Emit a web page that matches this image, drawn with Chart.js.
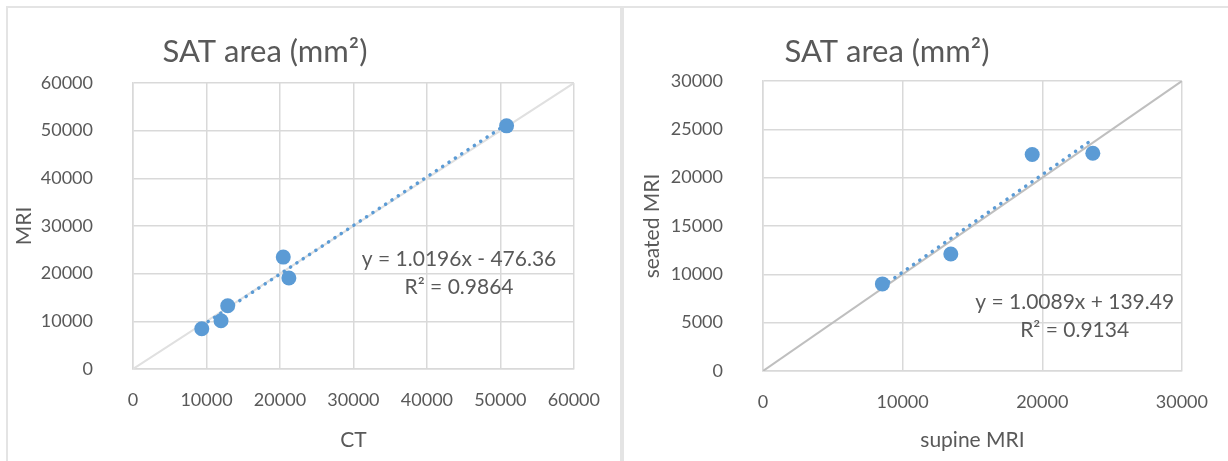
<!DOCTYPE html>
<html>
<head>
<meta charset="utf-8">
<script src="https://cdn.jsdelivr.net/npm/chart.js@4.4.1/dist/chart.umd.min.js"></script>
<style>
  body { margin: 0; background: #fff; width: 1228px; height: 461px; overflow: hidden; position: relative; }
  .frame { position: absolute; left: 6px; top: 6px; width: 1240px; height: 470px; border-left: 2px solid #e4e4e4; border-top: 2px solid #e4e4e4; }
  .sep { position: absolute; left: 620px; top: 6px; width: 4px; height: 460px; background: #e4e4e4; }
  .box { position: absolute; top: 0; height: 461px; }
</style>
</head>
<body>
<div class="frame"></div>
<div class="sep"></div>
<div class="box" style="left:0;width:620px"><canvas id="left"></canvas></div>
<div class="box" style="left:624px;width:604px"><canvas id="right"></canvas></div>
<script>
// CT vs MRI
const ctValues = [9360, 11980, 12890, 20450, 21210, 50840];
const mriValues = [8450, 10130, 13270, 23480, 19080, 51010];
const ctXTicks = [0, 10000, 20000, 30000, 40000, 50000, 60000];
const ctYTicks = [0, 10000, 20000, 30000, 40000, 50000, 60000];

// supine vs seated MRI
const supineValues = [8550, 13450, 19280, 23620];
const seatedValues = [9010, 12110, 22390, 22530];
const supineTicks = [0, 10000, 20000, 30000];
const seatedTicks = [0, 5000, 10000, 15000, 20000, 25000, 30000];

// linear trend lines (from the equations shown)
const ctTrend = { slope: 1.0196, intercept: -476.36, r2: '0.9864' };
const mriTrend = { slope: 1.0089, intercept: 139.49, r2: '0.9134' };

const BLUE = '#5b9bd5';
const TEXT = '#595959';
const GRID = '#d9d9d9';

const panelText = {
    id: 'panelText',
    afterDraw(chart, args, opts) {
        const c = chart.ctx;
        const sx = chart.scales.x, sy = chart.scales.y;
        c.save();
        c.fillStyle = TEXT;
        c.textAlign = 'center';
        c.font = '31px Lato';
        c.textBaseline = 'alphabetic';
        c.fillText('SAT area (mm\u00B2)', opts.titleX, opts.titleY);
        c.font = '21px Lato';
        c.textBaseline = 'middle';
        const px = sx.getPixelForValue(opts.eq[0]);
        const py = sy.getPixelForValue(opts.eq[1]);
        c.fillText(opts.eqText, px, py);
        c.fillText(opts.r2Text, px, py + 28);
        c.restore();
    }
};

function fmtEq(t) {
    const sign = t.intercept < 0 ? ' - ' : ' + ';
    return 'y = ' + t.slope.toFixed(4) + 'x' + sign + Math.abs(t.intercept).toFixed(2);
}

function makeChart(id, xs, ys, trend, xTicks, yTicks, cfg) {
    const xMax = xTicks[xTicks.length - 1];
    const yMax = yTicks[yTicks.length - 1];
    const points = xs.map((x, i) => ({ x: x, y: ys[i] }));
    const lo = Math.min(...xs), hi = Math.max(...xs);
    const trendPts = [lo, hi].map(x => ({ x: x, y: trend.slope * x + trend.intercept }));
    const W = cfg.width, H = 461;
    const tickFont = { family: 'Lato', size: 18 };
    const titleFont = { family: 'Lato', size: 21 };

    new Chart(document.getElementById(id), {
        type: 'scatter',
        data: {
            datasets: [{
                data: points,
                backgroundColor: BLUE,
                borderWidth: 0,
                pointRadius: 7.5
            }, {
                data: trendPts,
                showLine: true,
                pointRadius: 0,
                borderColor: BLUE,
                borderWidth: 3.5,
                borderCapStyle: 'round',
                borderDash: [0.1, 7.5]
            }, {
                data: [{ x: 0, y: 0 }, { x: xMax, y: yMax }],
                showLine: true,
                pointRadius: 0,
                borderColor: cfg.diagColor,
                borderWidth: 2
            }]
        },
        options: {
            responsive: true,
            maintainAspectRatio: false,
            animation: false,
            layout: { padding: { left: 0, top: cfg.area.top, right: W - cfg.area.right, bottom: 0 } },
            plugins: {
                legend: { display: false },
                tooltip: { enabled: false },
                panelText: {
                    titleX: cfg.titleX, titleY: 62,
                    eq: cfg.eq, eqText: fmtEq(trend), r2Text: 'R\u00B2 = ' + trend.r2
                }
            },
            scales: {
                x: {
                    type: 'linear', min: 0, max: xMax,
                    afterFit: s => { s.height = H - cfg.area.bottom; },
                    ticks: { stepSize: xTicks[1] - xTicks[0], padding: 20, color: TEXT, font: tickFont, callback: v => String(v) },
                    grid: { color: GRID, lineWidth: 1.5, drawTicks: false },
                    border: { color: GRID, width: 1.5 },
                    title: { display: true, text: cfg.xTitle, color: TEXT, font: titleFont, padding: { top: 0, bottom: 8 } }
                },
                y: {
                    type: 'linear', min: 0, max: yMax,
                    afterFit: s => { s.width = cfg.area.left; },
                    ticks: { stepSize: yTicks[1] - yTicks[0], padding: 40, color: TEXT, font: tickFont, callback: v => String(v) },
                    grid: { color: GRID, lineWidth: 1.5, drawTicks: false },
                    border: { color: GRID, width: 1.5 },
                    title: { display: true, text: cfg.yTitle, color: TEXT, font: titleFont, padding: { top: cfg.yTitlePad, bottom: 0 } }
                }
            }
        },
        plugins: [panelText]
    });
}

makeChart('left', ctValues, mriValues, ctTrend, ctXTicks, ctYTicks, {
    width: 620,
    area: { left: 133, top: 83, right: 575, bottom: 369 },
    titleX: 265,
    eq: [44370, 23060],
    xTitle: 'CT', yTitle: 'MRI', yTitlePad: 12,
    diagColor: '#e0e0e0'
});

makeChart('right', supineValues, seatedValues, mriTrend, supineTicks, seatedTicks, {
    width: 604,
    area: { left: 139, top: 81, right: 561, bottom: 371 },
    titleX: 263,
    eq: [22320, 7140],
    xTitle: 'supine MRI', yTitle: 'seated MRI', yTitlePad: 16,
    diagColor: '#bfbfbf'
});
</script>
</body>
</html>
